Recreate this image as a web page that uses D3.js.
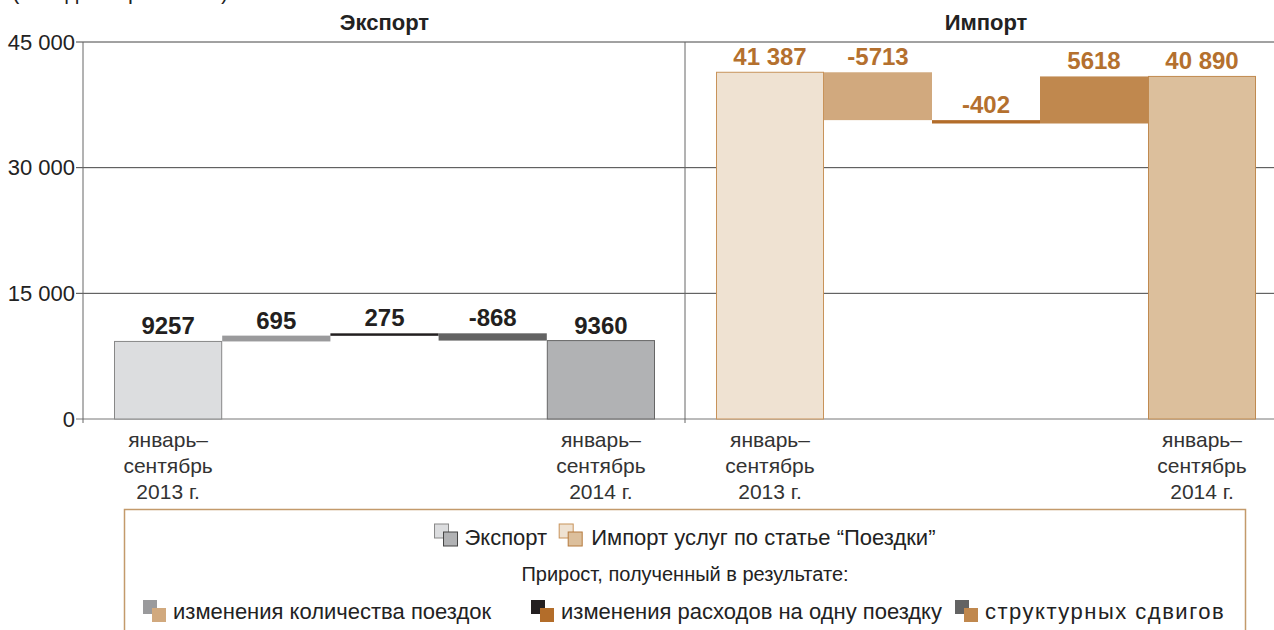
<!DOCTYPE html>
<html>
<head>
<meta charset="utf-8">
<script src="https://cdn.jsdelivr.net/npm/d3@7"></script>
<style>
  body { margin: 0; background: #fff; }
  svg { display: block; font-family: "Liberation Sans", Arial, sans-serif; }
</style>
</head>
<body>
<svg id="chart" width="1274" height="630"></svg>
<script>
// steps of the waterfall (first and last are totals)
const steps = [
  "январь–сентябрь 2013 г.",
  "изменения количества поездок",
  "изменения расходов на одну поездку",
  "структурных сдвигов",
  "январь–сентябрь 2014 г."
];
const exportValues = [9257, 695, 275, -868, 9360];
const importValues = [41387, -5713, -402, 5618, 40890];
const yTicks = [0, 15000, 30000, 45000];
const periodLines = [
  ["январь–", "сентябрь", "2013 г."],
  ["январь–", "сентябрь", "2014 г."]
];

const exportColors = ["#dcdddf", "#9a9a9c", "#231f20", "#636363", "#b1b2b4"];
const importColors = ["#efe2d2", "#d1a97e", "#b36d2a", "#c0884e", "#dcbf9c"];

const width = 1274;
const svg = d3.select("#chart");

const y = d3.scaleLinear().domain([0, 45000]).range([419, 42]);
const axisX = 83;
const splitX = 685;

const fmtGroup = d3.formatLocale({ decimal: ",", thousands: "\u00a0", grouping: [3], currency: ["", ""] }).format(",d");
const fmtLabel = (v) => (Math.abs(v) >= 10000 ? fmtGroup(v) : String(v));

// waterfall layout
const waterfall = (values) => {
  let run = values[0];
  return values.map((v, i) => {
    if (i === 0 || i === values.length - 1) return { i, v, y0: 0, y1: v, total: true };
    const d = { i, v, y0: run, y1: run + v, total: false };
    run += v;
    return d;
  });
};

// top-left caption (cut off at the top in the source)
svg.append("text")
  .attr("x", 12).attr("y", -1)
  .style("font-size", "22px").attr("fill", "#222")
  .text("(млн долларов США)");

// grid + ticks
const grid = svg.append("g");
grid.selectAll("line.grid")
  .data(yTicks)
  .join("line")
  .attr("class", "grid")
  .attr("x1", axisX - 7).attr("x2", width)
  .attr("y1", (d) => y(d)).attr("y2", (d) => y(d))
  .attr("stroke", (d) => (d === 0 ? "#777" : "#444"))
  .attr("stroke-width", 1);

grid.selectAll("text")
  .data(yTicks)
  .join("text")
  .attr("x", axisX - 8)
  .attr("y", (d) => y(d))
  .attr("dy", "0.35em")
  .attr("text-anchor", "end")
  .style("font-size", "22px")
  .attr("fill", "#222")
  .text((d) => fmtGroup(d));

svg.append("line")
  .attr("x1", axisX).attr("x2", axisX)
  .attr("y1", y(45000)).attr("y2", y(0) + 4)
  .attr("stroke", "#666");
svg.append("line")
  .attr("x1", splitX).attr("x2", splitX)
  .attr("y1", y(45000)).attr("y2", y(0) + 4)
  .attr("stroke", "#666");

const drawPanel = (values, colors, x0, x1, title, labelColor, strokeFirst, strokeLast) => {
  const x = d3.scaleBand().domain(d3.range(values.length)).range([x0, x1]).padding(0);
  const data = waterfall(values);
  const g = svg.append("g");

  g.append("text")
    .attr("x", (x0 + x1) / 2)
    .attr("y", 30)
    .attr("text-anchor", "middle")
    .style("font-size", "22px")
    .style("font-weight", "bold")
    .attr("fill", "#222")
    .text(title);

  g.selectAll("rect")
    .data(data)
    .join("rect")
    .attr("x", (d) => x(d.i) + (d.total ? 0.5 : 0))
    .attr("width", (d) => x.bandwidth() - (d.total ? 1 : 0))
    .attr("y", (d) => y(Math.max(d.y0, d.y1)))
    .attr("height", (d) => Math.max(2.5, Math.abs(y(d.y0) - y(d.y1))))
    .attr("fill", (d) => colors[d.i])
    .attr("stroke", (d) => (d.i === 0 ? strokeFirst : d.i === values.length - 1 ? strokeLast : "none"))
    .attr("stroke-width", 1);

  g.selectAll("text.val")
    .data(data)
    .join("text")
    .attr("class", "val")
    .attr("x", (d) => x(d.i) + x.bandwidth() / 2)
    .attr("y", (d) => y(Math.max(d.y0, d.y1)) - 7)
    .attr("text-anchor", "middle")
    .style("font-size", "24px")
    .style("font-weight", "bold")
    .attr("fill", labelColor)
    .text((d) => fmtLabel(d.v));

  const ends = [0, values.length - 1];
  ends.forEach((idx, k) => {
    const t = g.append("text")
      .attr("text-anchor", "middle")
      .style("font-size", "21px")
      .attr("fill", "#333");
    periodLines[k].forEach((line, j) => {
      t.append("tspan")
        .attr("x", x(idx) + x.bandwidth() / 2)
        .attr("y", 447 + j * 26)
        .text(line);
    });
  });
};

drawPanel(exportValues, exportColors, 114, 655, "Экспорт", "#231f20", "#888", "#666");
drawPanel(importValues, importColors, 716, 1256, "Импорт", "#b4702e", "#c8935a", "#c08a50");

// legend
const legend = svg.append("g");
legend.append("rect")
  .attr("x", 124.5).attr("y", 509.5)
  .attr("width", 1121).attr("height", 140)
  .attr("fill", "none")
  .attr("stroke", "#c39a6b")
  .attr("stroke-width", 1.5);

const icon = (g, x, yTop, back, front, backStroke, frontStroke) => {
  g.append("rect").attr("x", x).attr("y", yTop).attr("width", 14).attr("height", 14)
    .attr("fill", back).attr("stroke", backStroke || "none");
  g.append("rect").attr("x", x + 9).attr("y", yTop + 8).attr("width", 14).attr("height", 14)
    .attr("fill", front).attr("stroke", frontStroke || "none");
};

const legendText = (g, x, yBase, str, size) =>
  g.append("text").attr("x", x).attr("y", yBase)
    .style("font-size", size || "22px").attr("fill", "#222").text(str);

// line 1: series
const line1 = legend.append("g");
icon(line1, 0, 0, exportColors[0], exportColors[4], "#888", "#444");
const t1 = legendText(line1, 30, 21, "Экспорт");
const w1 = t1.node().getComputedTextLength();
icon(line1, 30 + w1 + 12, 0, importColors[0], importColors[4], "#c8935a", "#b57a3e");
const t2 = legendText(line1, 30 + w1 + 12 + 32, 21, "Импорт услуг по статье “Поездки”");
const total1 = 30 + w1 + 12 + 32 + t2.node().getComputedTextLength();
line1.attr("transform", `translate(${685 - total1 / 2},${524})`);

legend.append("text")
  .attr("x", 685).attr("y", 581)
  .attr("text-anchor", "middle")
  .style("font-size", "20px").attr("fill", "#222")
  .text("Прирост, полученный в результате:");

const itemX = [143, 531, 955];
const itemSpacing = [0, 0, 1.5];
[1, 2, 3].forEach((idx, k) => {
  const g = legend.append("g").attr("transform", `translate(${itemX[k]},600)`);
  icon(g, 0, 0, exportColors[idx], importColors[idx]);
  legendText(g, 30, 19, steps[idx]).style("letter-spacing", `${itemSpacing[k]}px`);
});
</script>
</body>
</html>
